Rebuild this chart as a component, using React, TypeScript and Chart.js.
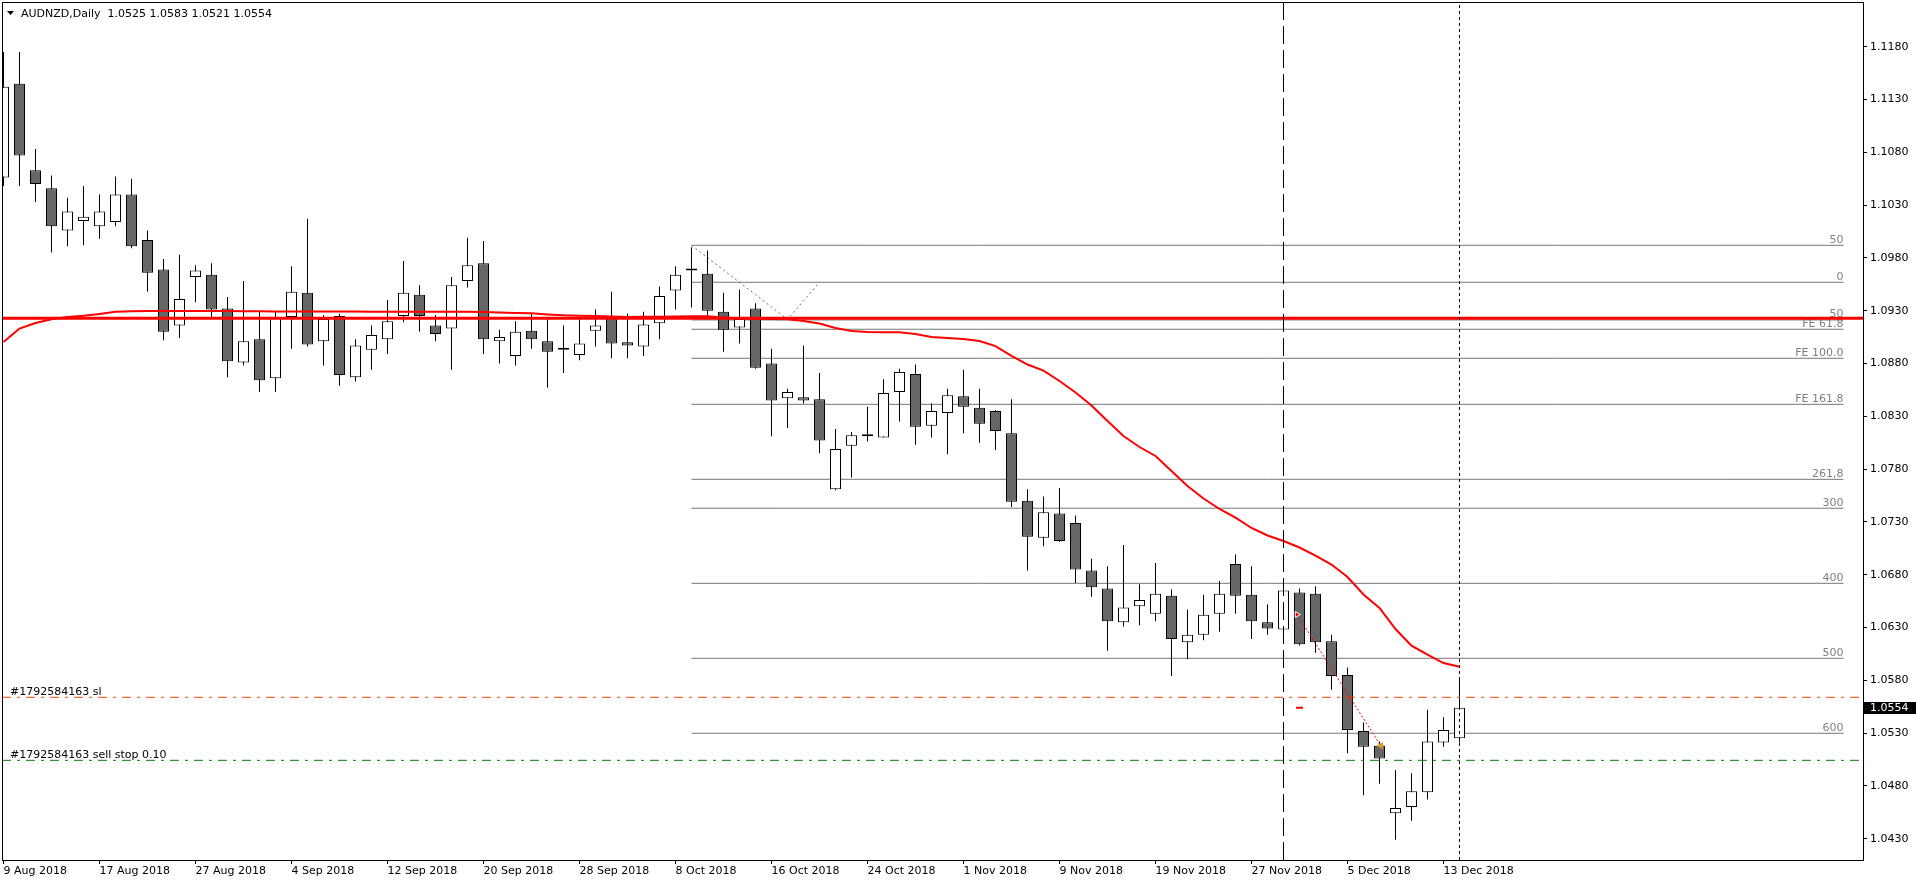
import { useEffect, useRef } from 'react';
import { Chart, registerables } from 'chart.js';

Chart.register(...registerables);

const FONT = "'DejaVu Sans', Verdana, sans-serif";

// ---------------- data ----------------
const symbolName = 'AUDNZD,Daily';

const opens = [
  1.1056, 1.1145, 1.1063, 1.1046, 1.1006, 1.1015, 1.1010, 1.1014, 1.1040, 1.0997,
  1.0969, 1.0916, 1.0962, 1.0964, 1.0932, 1.0881, 1.0903, 1.0866, 1.0924, 1.0947,
  1.0901, 1.0925, 1.0867, 1.0893, 1.0903, 1.0925, 1.0945, 1.0916, 1.0913, 1.0958,
  1.0975, 1.0901, 1.0887, 1.0911, 1.0901, 1.0895, 1.0888, 1.0911, 1.0925, 1.0900,
  1.0896, 1.0918, 1.0949, 1.0970, 1.0965, 1.0929, 1.0914, 1.0932, 1.0880, 1.0847,
  1.0848, 1.0846, 1.0761, 1.0802, 1.0813, 1.0810, 1.0853, 1.0870, 1.0821, 1.0833,
  1.0849, 1.0838, 1.0835, 1.0814, 1.0750, 1.0715, 1.0738, 1.0729, 1.0684, 1.0667,
  1.0635, 1.0650, 1.0643, 1.0660, 1.0616, 1.0623, 1.0643, 1.0690, 1.0661, 1.0635,
  1.0628, 1.0663, 1.0662, 1.0617, 1.0585, 1.0532, 1.0518, 1.0454, 1.0460, 1.0474,
  1.0521, 1.0525,
];
const highs = [
  1.1175, 1.1175, 1.1083, 1.1058, 1.1037, 1.1048, 1.1040, 1.1057, 1.1055, 1.1006,
  1.0979, 1.0983, 1.0973, 1.0975, 1.0943, 1.0958, 1.0929, 1.0929, 1.0972, 1.1017,
  1.0926, 1.0927, 1.0903, 1.0916, 1.0940, 1.0977, 1.0954, 1.0926, 1.0962, 1.0999,
  1.0996, 1.0912, 1.0920, 1.0928, 1.0923, 1.0916, 1.0923, 1.0931, 1.0948, 1.0927,
  1.0929, 1.0953, 1.0972, 1.0990, 1.0987, 1.0947, 1.0950, 1.0937, 1.0894, 1.0856,
  1.0897, 1.0871, 1.0818, 1.0815, 1.0839, 1.0865, 1.0875, 1.0879, 1.0842, 1.0856,
  1.0874, 1.0856, 1.0836, 1.0846, 1.0761, 1.0754, 1.0762, 1.0736, 1.0695, 1.0688,
  1.0708, 1.0671, 1.0691, 1.0666, 1.0647, 1.0661, 1.0674, 1.0699, 1.0688, 1.0652,
  1.0667, 1.0667, 1.0669, 1.0623, 1.0592, 1.0540, 1.0522, 1.0495, 1.0492, 1.0552,
  1.0545, 1.0583,
];
const lows = [
  1.1048, 1.1048, 1.1033, 1.0985, 1.0991, 1.0992, 1.0998, 1.1010, 1.0989, 1.0948,
  1.0902, 1.0904, 1.0938, 1.0922, 1.0867, 1.0878, 1.0853, 1.0853, 1.0894, 1.0896,
  1.0878, 1.0859, 1.0863, 1.0874, 1.0889, 1.0919, 1.0910, 1.0901, 1.0874, 1.0952,
  1.0889, 1.0880, 1.0878, 1.0894, 1.0857, 1.0871, 1.0883, 1.0896, 1.0885, 1.0885,
  1.0887, 1.0903, 1.0931, 1.0933, 1.0923, 1.0891, 1.0899, 1.0875, 1.0811, 1.0819,
  1.0842, 1.0795, 1.0760, 1.0772, 1.0806, 1.0810, 1.0825, 1.0803, 1.0810, 1.0794,
  1.0814, 1.0805, 1.0798, 1.0744, 1.0684, 1.0707, 1.0711, 1.0672, 1.0659, 1.0608,
  1.0631, 1.0632, 1.0636, 1.0584, 1.0600, 1.0618, 1.0626, 1.0643, 1.0619, 1.0623,
  1.0623, 1.0613, 1.0606, 1.0571, 1.0511, 1.0471, 1.0482, 1.0429, 1.0447, 1.0467,
  1.0517, 1.0521,
];
const closes = [
  1.1142, 1.1077, 1.1050, 1.1010, 1.1024, 1.1019, 1.1024, 1.1040, 1.0991, 1.0966,
  1.0910, 1.0941, 1.0968, 1.0931, 1.0882, 1.0901, 1.0864, 1.0923, 1.0948, 1.0898,
  1.0922, 1.0869, 1.0897, 1.0907, 1.0920, 1.0947, 1.0925, 1.0908, 1.0954, 1.0973,
  1.0903, 1.0905, 1.0910, 1.0903, 1.0891, 1.0893, 1.0899, 1.0916, 1.0899, 1.0897,
  1.0917, 1.0944, 1.0964, 1.0968, 1.0930, 1.0912, 1.0922, 1.0876, 1.0845, 1.0853,
  1.0845, 1.0807, 1.0799, 1.0812, 1.0811, 1.0852, 1.0872, 1.0820, 1.0835, 1.0850,
  1.0839, 1.0823, 1.0816, 1.0749, 1.0716, 1.0739, 1.0712, 1.0685, 1.0668, 1.0636,
  1.0649, 1.0656, 1.0662, 1.0619, 1.0623, 1.0642, 1.0662, 1.0660, 1.0636, 1.0629,
  1.0665, 1.0614, 1.0616, 1.0584, 1.0533, 1.0517, 1.0506, 1.0459, 1.0475, 1.0522,
  1.0533, 1.0554,
];
const maValues = [
  1.09003, 1.09131, 1.09183, 1.09218, 1.09240, 1.09252, 1.09268, 1.09289, 1.09294, 1.09297,
  1.09297, 1.09297, 1.09297, 1.09297, 1.09296, 1.09295, 1.09294, 1.09293, 1.09292, 1.09292,
  1.09292, 1.09291, 1.09291, 1.09290, 1.09290, 1.09290, 1.09290, 1.09290, 1.09289, 1.09289,
  1.09287, 1.09283, 1.09278, 1.09275, 1.09264, 1.09256, 1.09252, 1.09249, 1.09245, 1.09240,
  1.09243, 1.09243, 1.09245, 1.09247, 1.09247, 1.09235, 1.09226, 1.09221, 1.09221, 1.09218,
  1.09202, 1.09178, 1.09136, 1.09107, 1.09098, 1.09096, 1.09095, 1.09079, 1.09051, 1.09041,
  1.09032, 1.09013, 1.08965, 1.08871, 1.08790, 1.08733, 1.08634, 1.08525, 1.08402, 1.08255,
  1.08113, 1.08009, 1.07924, 1.07782, 1.07640, 1.07521, 1.07422, 1.07341, 1.07242, 1.07171,
  1.07119, 1.07057, 1.06981, 1.06896, 1.06778, 1.06612, 1.06485, 1.06285, 1.06128, 1.06042,
  1.05963, 1.05928,
];

const xTickIndex = [0, 6, 12, 18, 24, 30, 36, 42, 48, 54, 60, 66, 72, 78, 84, 90];
const xTickLabels = [
  '9 Aug 2018', '17 Aug 2018', '27 Aug 2018', '4 Sep 2018', '12 Sep 2018', '20 Sep 2018',
  '28 Sep 2018', '8 Oct 2018', '16 Oct 2018', '24 Oct 2018', '1 Nov 2018', '9 Nov 2018',
  '19 Nov 2018', '27 Nov 2018', '5 Dec 2018', '13 Dec 2018',
];
const yTicks = [
  1.043, 1.048, 1.053, 1.058, 1.063, 1.068, 1.073, 1.078,
  1.083, 1.088, 1.093, 1.098, 1.103, 1.108, 1.113, 1.118,
];

const fiboLevels = [1.09919, 1.09569, 1.09212, 1.09124, 1.08849, 1.08413, 1.07703, 1.07429, 1.06718, 1.06008, 1.05298];
const fiboLabels = ['50', '0', '50', 'FE 61.8', 'FE 100.0', 'FE 161.8', '261,8', '300', '400', '500', '600'];
const fiboStartIndex = 43;
const fiboEndIndex = 115;

const zigzagIndex = [43, 49, 51];
const zigzagPrice = [1.09919, 1.09218, 1.09569];

const resistancePrice = 1.09229;
const stopLossPrice = 1.05639;
const stopLossLabel = '#1792584163 sl';
const sellStopPrice = 1.05042;
const sellStopLabel = '#1792584163 sell stop 0.10';

const dashedLineIndex = 80;
const dottedLineIndex = 91;

const tradeTime = [80.84, 86.09];
const tradePrice = [1.06423, 1.05178];
const priceMarkIndex = [81];
const priceMarkValue = [1.0554];

const Y_MIN = 1.04098;
const Y_MAX = 1.12223;
const X_MIN = -0.09375;
const X_MAX = 116.28125;

// ---------------- chart ----------------
const idx = opens.map((_, i) => i);
const bullBodies = idx.filter((i) => closes[i] >= opens[i]).map((i) => ({ x: i, y: [opens[i], closes[i]] }));
const bearBodies = idx.filter((i) => closes[i] < opens[i]).map((i) => ({ x: i, y: [closes[i], opens[i]] }));
const wicks = idx.map((i) => ({ x: i, y: [lows[i], highs[i]] }));

const fiboData: any[] = [];
fiboLevels.forEach((lv) => {
  fiboData.push({ x: fiboStartIndex, y: lv });
  fiboData.push({ x: fiboEndIndex, y: lv });
  fiboData.push({ x: fiboEndIndex, y: null });
});

const hLine = (v: number) => [{ x: X_MIN, y: v }, { x: X_MAX, y: v }];
const vLine = (i: number) => [{ x: i, y: Y_MIN }, { x: i, y: Y_MAX }];

const overlayPlugin = {
  id: 'mt4overlay',
  afterDatasetDraw(chart: any, args: any) {
    const ds = chart.data.datasets[args.index];
    if (ds.label !== 'fibo') return;
    const { ctx, scales } = chart;
    const x = scales.x;
    const y = scales.y;
    ctx.save();
    ctx.font = `11px ${FONT}`;
    ctx.fillStyle = '#7f7f7f';
    ctx.textAlign = 'right';
    ctx.textBaseline = 'alphabetic';
    const fx = x.getPixelForValue(fiboEndIndex);
    fiboLevels.forEach((lv, k) => {
      ctx.fillText(fiboLabels[k], fx, y.getPixelForValue(lv) - 2.5);
    });
    ctx.restore();
  },
  afterDraw(chart: any) {
    const { ctx, chartArea: a, scales } = chart;
    const y = scales.y;
    ctx.save();
    // frame
    ctx.strokeStyle = '#000';
    ctx.lineWidth = 1;
    ctx.strokeRect(a.left + 0.5, a.top + 0.5, a.right - a.left - 1, a.bottom - a.top);
    ctx.font = `11px ${FONT}`;
    ctx.textBaseline = 'alphabetic';
    // order labels
    ctx.fillStyle = '#000';
    ctx.textAlign = 'left';
    ctx.fillText(stopLossLabel, a.left + 8, y.getPixelForValue(stopLossPrice) - 2.5);
    ctx.fillText(sellStopLabel, a.left + 8, y.getPixelForValue(sellStopPrice) - 2.5);
    // title
    ctx.beginPath();
    ctx.moveTo(7, 11);
    ctx.lineTo(14, 11);
    ctx.lineTo(10.5, 15);
    ctx.closePath();
    ctx.fill();
    const n = closes.length - 1;
    const title = `${symbolName}  ${opens[n].toFixed(4)} ${highs[n].toFixed(4)} ${lows[n].toFixed(4)} ${closes[n].toFixed(4)}`;
    ctx.fillText(title, 21, 17);
    // current price box
    const py = Math.round(y.getPixelForValue(closes[n]));
    ctx.fillStyle = '#000';
    ctx.fillRect(a.right, py - 6, chart.width - a.right, 12);
    ctx.fillStyle = '#fff';
    ctx.textBaseline = 'middle';
    ctx.fillText(closes[n].toFixed(4), a.right + 6, py);
    ctx.restore();
  },
};

export default function App() {
  const ref = useRef<HTMLCanvasElement>(null);
  useEffect(() => {
    document.body.style.margin = '0';
    document.body.style.overflow = 'hidden';
    const canvas = ref.current as HTMLCanvasElement;
    const chart = new Chart(canvas, {
      type: 'bar',
      data: {
        datasets: [
          {
            type: 'line', label: 'fibo', data: fiboData, borderColor: '#767676', borderWidth: 1,
            pointRadius: 0, spanGaps: false, order: 20, clip: 0,
          } as any,
          {
            type: 'line', label: 'zigzag',
            data: zigzagIndex.map((v, k) => ({ x: v, y: zigzagPrice[k] })),
            borderColor: '#6e6e6e', borderWidth: 1, borderDash: [2, 3], pointRadius: 0, order: 19, clip: 0,
          } as any,
          {
            type: 'bar', label: 'wicks', data: wicks, backgroundColor: '#000', borderWidth: 0,
            barThickness: 1, grouped: false, inflateAmount: 0, order: 12, clip: 0,
          } as any,
          {
            type: 'bar', label: 'bull', data: bullBodies, backgroundColor: '#ffffff', borderColor: '#000',
            borderWidth: 1, borderSkipped: false, barThickness: 11, grouped: false, inflateAmount: 0, order: 11, clip: 0,
          } as any,
          {
            type: 'bar', label: 'bear', data: bearBodies, backgroundColor: '#666666', borderColor: '#000',
            borderWidth: 1, borderSkipped: false, barThickness: 11, grouped: false, inflateAmount: 0, order: 10, clip: 0,
          } as any,
          {
            type: 'line', label: 'ma', data: maValues.map((v, i) => ({ x: i, y: v })),
            borderColor: '#ff0000', borderWidth: 2, pointRadius: 0, tension: 0, order: 6, clip: 0,
          } as any,
          {
            type: 'line', label: 'resistance', data: hLine(resistancePrice),
            borderColor: '#ff0000', borderWidth: 3, pointRadius: 0, order: 5, clip: 0,
          } as any,
          {
            type: 'line', label: 'vdash', data: vLine(dashedLineIndex),
            borderColor: '#000', borderWidth: 1, borderDash: [18, 6], pointRadius: 0, order: 4, clip: 0,
          } as any,
          {
            type: 'line', label: 'vdot', data: vLine(dottedLineIndex),
            borderColor: '#000', borderWidth: 1, borderDash: [3, 3], pointRadius: 0, order: 4, clip: 0,
          } as any,
          {
            type: 'line', label: 'sl', data: hLine(stopLossPrice),
            borderColor: '#ff4500', borderWidth: 1, borderDash: [9, 6, 3, 6], pointRadius: 0, order: 3, clip: 0,
          } as any,
          {
            type: 'line', label: 'sellstop', data: hLine(sellStopPrice),
            borderColor: '#008000', borderWidth: 1, borderDash: [9, 6, 3, 6], pointRadius: 0, order: 3, clip: 0,
          } as any,
          {
            type: 'line', label: 'trade', data: tradeTime.map((t, k) => ({ x: t, y: tradePrice[k] })),
            borderColor: '#ff0000', borderWidth: 1, borderDash: [2, 2],
            pointStyle: 'triangle', pointRotation: [90, -90], pointRadius: 3.5,
            pointBackgroundColor: ['#ff0000', '#daa520'], pointBorderColor: ['#ffffff', '#c8901a'], pointBorderWidth: 1,
            order: 1, clip: 0,
          } as any,
          {
            type: 'line', label: 'mark', data: priceMarkIndex.map((t, k) => ({ x: t, y: priceMarkValue[k] })),
            showLine: false, pointStyle: 'line', pointRadius: 3.5, pointBorderColor: '#ff0000', pointBorderWidth: 2,
            order: 0, clip: 0,
          } as any,
        ],
      },
      options: {
        responsive: false,
        animation: false,
        devicePixelRatio: 1,
        events: [],
        layout: { padding: { left: 2, top: 2, right: 0, bottom: 0 }, autoPadding: false } as any,
        plugins: { legend: { display: false }, tooltip: { enabled: false }, title: { display: false } },
        scales: {
          x: {
            type: 'linear', position: 'bottom', min: X_MIN, max: X_MAX, offset: false, bounds: 'data',
            afterBuildTicks: (s: any) => { s.ticks = xTickIndex.map((v) => ({ value: v })); },
            afterFit: (s: any) => { s.height = 24; s.paddingLeft = 0; s.paddingRight = 0; s.paddingTop = 0; s.paddingBottom = 0; },
            ticks: {
              autoSkip: false, maxRotation: 0, minRotation: 0, align: 'start', padding: 1, color: '#000',
              font: { family: FONT, size: 11 },
              callback: (v: any) => { const k = xTickIndex.indexOf(Number(v)); return k >= 0 ? xTickLabels[k] : ''; },
            },
            grid: { drawOnChartArea: false, drawTicks: true, tickLength: 4, color: '#000', offset: false },
            border: { display: false },
          } as any,
          y: {
            type: 'linear', position: 'right', min: Y_MIN, max: Y_MAX, offset: false, bounds: 'data',
            afterBuildTicks: (s: any) => { s.ticks = yTicks.map((v) => ({ value: v })); },
            afterFit: (s: any) => { s.width = 52; s.paddingLeft = 0; s.paddingRight = 0; s.paddingTop = 0; s.paddingBottom = 0; },
            ticks: {
              padding: 3, color: '#000', font: { family: FONT, size: 11 },
              callback: (v: any) => Number(v).toFixed(4),
            },
            grid: { drawOnChartArea: false, drawTicks: true, tickLength: 3, color: '#000', offset: false },
            border: { display: false },
          } as any,
        },
      },
      plugins: [overlayPlugin as any],
    });
    return () => chart.destroy();
  }, []);
  return (
    <div style={{ position: 'fixed', left: 0, top: 0, width: 1916, height: 884, background: '#fff' }}>
      <canvas ref={ref} width={1916} height={884} style={{ display: 'block', width: 1916, height: 884 }} />
    </div>
  );
}
